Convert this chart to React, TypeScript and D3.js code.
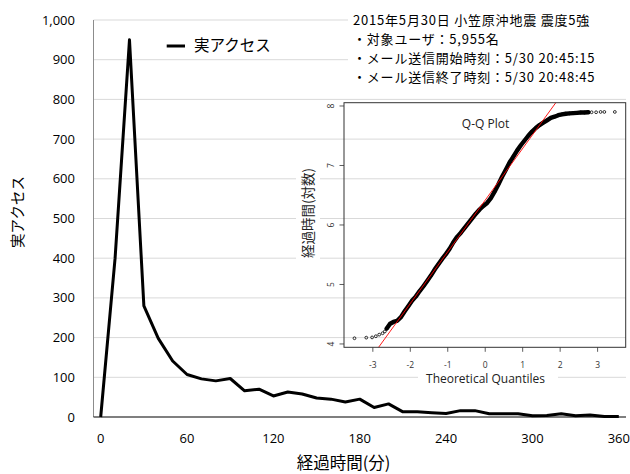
import { useEffect, useRef } from 'react';
import * as d3 from 'd3';

// ── main series: accesses per 10 minutes ──
const minutes = [0, 10, 20, 30, 40, 50, 60, 70, 80, 90, 100, 110, 120, 130, 140, 150, 160, 170, 180,
  190, 200, 210, 220, 230, 240, 250, 260, 270, 280, 290, 300, 310, 320, 330, 340, 350, 360];
const access = [0, 400, 950, 280, 198, 141, 107, 96, 91, 97, 66, 70, 53, 63, 58, 48, 45, 38, 45,
  24, 33, 13, 13, 11, 9, 16, 16, 8, 8, 8, 3, 4, 8, 3, 5, 1, 1];
const xTicks = [0, 60, 120, 180, 240, 300, 360];
const yTicks = [0, 100, 200, 300, 400, 500, 600, 700, 800, 900, 1000];

const noteLines = [
  '2015年5月30日 小笠原沖地震 震度5強',
  '・対象ユーザ：5,955名',
  '・メール送信開始時刻：5/30 20:45:15',
  '・メール送信終了時刻：5/30 20:48:45',
];

// ── Q-Q plot (log elapsed time vs normal quantiles) ──
const qqTailLowQ = [-3.49, -3.175, -3.02, -2.92, -2.83, -2.74, -2.68];
const qqTailLowV = [4.096, 4.106, 4.11, 4.13, 4.157, 4.18, 4.21];
const qqDenseQ = [-2.63, -2.54, -2.45, -2.35, -2.25, -2.15, -2.05, -1.95, -1.85, -1.75, -1.65, -1.55,
  -1.45, -1.35, -1.25, -1.15, -1.05, -0.95, -0.85, -0.75, -0.65, -0.55, -0.45, -0.35, -0.25, -0.15,
  -0.05, 0.05, 0.15, 0.25, 0.35, 0.45, 0.55, 0.65, 0.75, 0.85, 0.95, 1.05, 1.15, 1.25, 1.35, 1.45,
  1.55, 1.65, 1.75, 1.85, 1.95, 2.05, 2.15, 2.25, 2.35, 2.45, 2.55, 2.65, 2.75];
const qqDenseV = [4.26, 4.34, 4.37, 4.39, 4.45, 4.55, 4.64, 4.73, 4.8, 4.89, 4.97, 5.06,
  5.15, 5.25, 5.34, 5.43, 5.51, 5.6, 5.71, 5.8, 5.87, 5.95, 6.03, 6.11, 6.19, 6.26,
  6.32, 6.37, 6.45, 6.56, 6.68, 6.81, 6.93, 7.05, 7.15, 7.25, 7.34, 7.42, 7.5, 7.57, 7.63, 7.68,
  7.72, 7.76, 7.8, 7.82, 7.845, 7.86, 7.87, 7.875, 7.88, 7.885, 7.89, 7.89, 7.895];
const qqTailHighQ = [2.84, 2.96, 3.08, 3.18, 3.46];
const qqTailHighV = [7.895, 7.895, 7.9, 7.9, 7.9];
const qqLine = { intercept: 6.418, slope: 0.869 };
const qqXTicks = [-3, -2, -1, 0, 1, 2, 3];
const qqYTicks = [4, 5, 6, 7, 8];

const SANS = '"Open Sans", "Noto Sans CJK JP", sans-serif';
const CJK = '"Noto Sans CJK JP", "Open Sans", sans-serif';

export default function App() {
  const svgRef = useRef<SVGSVGElement>(null);

  useEffect(() => {
    const svg = d3.select(svgRef.current!);
    svg.selectAll('*').remove();

    const W = 630, H = 474;
    const left = 93.5, right = 626, top = 20, bottom = 417;

    svg.append('rect').attr('width', W).attr('height', H).attr('fill', '#fff');

    const x = d3.scalePoint<number>().domain(minutes).range([left, right]).padding(0.5);
    const y = d3.scaleLinear().domain([0, 1000]).range([bottom, top]);

    // gridlines
    svg.append('g').selectAll('line').data(yTicks.filter(t => t > 0)).join('line')
      .attr('x1', left).attr('x2', right)
      .attr('y1', d => y(d)).attr('y2', d => y(d))
      .attr('stroke', '#d9d9d9').attr('stroke-width', 1);

    // axes lines
    svg.append('line').attr('x1', left).attr('x2', left).attr('y1', top).attr('y2', bottom)
      .attr('stroke', '#8c8c8c').attr('stroke-width', 1);
    svg.append('line').attr('x1', left).attr('x2', right).attr('y1', bottom).attr('y2', bottom)
      .attr('stroke', '#000').attr('stroke-width', 1.2);

    // y tick labels
    svg.append('g').selectAll('text').data(yTicks).join('text')
      .attr('x', 75).attr('y', d => y(d)).attr('dy', '0.35em')
      .attr('text-anchor', 'end').attr('font-family', SANS).attr('font-size', 13).attr('fill', '#000')
      .text(d => d3.format(',')(d));

    // x tick labels
    svg.append('g').selectAll('text').data(xTicks).join('text')
      .attr('x', d => x(d)!).attr('y', 438).attr('dy', '0.35em')
      .attr('text-anchor', 'middle').attr('font-family', SANS).attr('font-size', 13).attr('fill', '#000')
      .text(d => d);

    // axis titles
    svg.append('text').attr('transform', 'translate(18,212) rotate(-90)')
      .attr('text-anchor', 'middle').attr('dy', '0.35em')
      .attr('font-family', CJK).attr('font-size', 14.5).text('実アクセス');
    svg.append('text').attr('x', 343.5).attr('y', 463).attr('dy', '0.35em')
      .attr('text-anchor', 'middle').attr('font-family', CJK).attr('font-size', 16.5).text('経過時間(分)');

    // legend
    svg.append('line').attr('x1', 166.7).attr('x2', 185).attr('y1', 46).attr('y2', 46)
      .attr('stroke', '#000').attr('stroke-width', 3);
    svg.append('text').attr('x', 194).attr('y', 46).attr('dy', '0.35em')
      .attr('font-family', CJK).attr('font-size', 15.5).text('実アクセス');

    // annotation box
    svg.append('rect').attr('x', 348).attr('y', 5).attr('width', W - 348).attr('height', 87).attr('fill', '#fff');
    noteLines.forEach((t, i) => {
      svg.append('text').attr('x', 353).attr('y', 20.2 + i * 19).attr('dy', '0.35em')
        .attr('font-family', CJK).attr('font-size', 13).attr('letter-spacing', 0.8)
        .attr('fill', '#000').text(t);
    });

    // main line
    const line = d3.line<number>().x((_, i) => x(minutes[i])!).y(d => y(d));
    svg.append('path').datum(access).attr('d', line).attr('fill', 'none')
      .attr('stroke', '#000').attr('stroke-width', 3).attr('stroke-linejoin', 'round');

    // ── inset Q-Q plot ──
    const qx = d3.scaleLinear().domain([-3.77, 3.75]).range([344, 625.7]);
    const qy = d3.scaleLinear().domain([3.944, 8.052]).range([347.3, 102.9]);
    const g = svg.append('g');

    // label backgrounds
    g.append('rect').attr('x', 296).attr('y', 166).attr('width', 24).attr('height', 98).attr('fill', '#fff');
    g.append('rect').attr('x', 418).attr('y', 370).attr('width', 140).attr('height', 17).attr('fill', '#fff');

    g.append('text').attr('transform', 'translate(308,213) rotate(-90)')
      .attr('text-anchor', 'middle').attr('dy', '0.35em')
      .attr('font-family', CJK).attr('font-size', 13.5).attr('fill', '#222').text('経過時間(対数)');
    g.append('text').attr('x', 485.5).attr('y', 378.5).attr('dy', '0.35em')
      .attr('text-anchor', 'middle').attr('font-family', SANS).attr('font-size', 12).attr('fill', '#222')
      .text('Theoretical Quantiles');
    g.append('text').attr('x', 485.5).attr('y', 123.5).attr('dy', '0.35em')
      .attr('text-anchor', 'middle').attr('font-family', SANS).attr('font-size', 12).attr('fill', '#222')
      .text('Q-Q Plot');

    // ticks
    g.append('g').selectAll('line').data(qqXTicks).join('line')
      .attr('x1', d => qx(d)).attr('x2', d => qx(d)).attr('y1', 347.3).attr('y2', 351.8)
      .attr('stroke', '#333').attr('stroke-width', 0.8);
    g.append('g').selectAll('text').data(qqXTicks).join('text')
      .attr('x', d => qx(d)).attr('y', 365).attr('dy', '0.35em').attr('text-anchor', 'middle')
      .attr('font-family', SANS).attr('font-size', 8.5).attr('fill', '#333').text(d => d);
    g.append('g').selectAll('line').data(qqYTicks).join('line')
      .attr('x1', 339.5).attr('x2', 344).attr('y1', d => qy(d)).attr('y2', d => qy(d))
      .attr('stroke', '#333').attr('stroke-width', 0.8);
    g.append('g').selectAll('text').data(qqYTicks).join('text')
      .attr('transform', d => `translate(331,${qy(d)}) rotate(-90)`)
      .attr('dy', '0.35em').attr('text-anchor', 'middle')
      .attr('font-family', SANS).attr('font-size', 8.5).attr('fill', '#333').text(d => d);

    // clip for the reference line
    svg.append('defs').append('clipPath').attr('id', 'qqclip')
      .append('rect').attr('x', 344).attr('y', 102.7).attr('width', 625.7 - 344).attr('height', 347.3 - 102.7);

    const dense = qqDenseQ.map((q, i) => [qx(q), qy(qqDenseV[i])] as [number, number]);
    g.append('path').datum(dense).attr('d', d3.line()).attr('fill', 'none')
      .attr('stroke', '#000').attr('stroke-width', 4.4).attr('stroke-linejoin', 'round').attr('stroke-linecap', 'round');

    const pts = [
      ...qqTailLowQ.map((q, i) => [q, qqTailLowV[i]]),
      ...qqDenseQ.map((q, i) => [q, qqDenseV[i]]),
      ...qqTailHighQ.map((q, i) => [q, qqTailHighV[i]]),
    ];
    g.append('g').selectAll('circle').data(pts).join('circle')
      .attr('cx', d => qx(d[0])).attr('cy', d => qy(d[1])).attr('r', 1.4)
      .attr('fill', 'none').attr('stroke', '#000').attr('stroke-width', 0.8);

    const [q0, q1] = qx.domain();
    g.append('line').attr('clip-path', 'url(#qqclip)')
      .attr('x1', qx(q0)).attr('y1', qy(qqLine.intercept + qqLine.slope * q0))
      .attr('x2', qx(q1)).attr('y2', qy(qqLine.intercept + qqLine.slope * q1))
      .attr('stroke', '#ff0000').attr('stroke-width', 0.9);

    g.append('rect').attr('x', 344).attr('y', 102.7).attr('width', 625.7 - 344).attr('height', 347.3 - 102.7)
      .attr('fill', 'none').attr('stroke', '#333').attr('stroke-width', 1);
  }, []);

  return (
    <svg ref={svgRef} width={630} height={474}
      style={{ position: 'absolute', left: 0, top: 0, display: 'block' }} />
  );
}
